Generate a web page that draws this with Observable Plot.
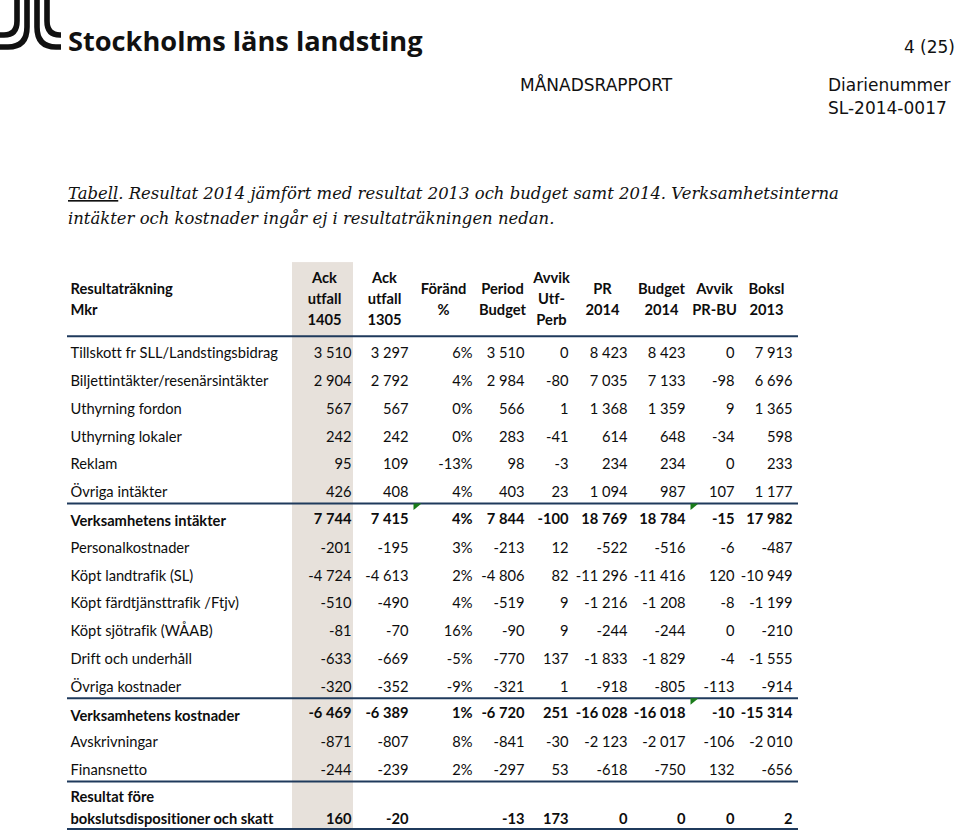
<!DOCTYPE html>
<html lang="sv">
<head>
<meta charset="utf-8">
<script src="https://cdn.jsdelivr.net/npm/d3@7"></script>
<script src="https://cdn.jsdelivr.net/npm/@observablehq/plot@0.6"></script>
<style>
  html, body { margin: 0; padding: 0; background: #fff; overflow: hidden; }
  #page { position: relative; width: 959px; height: 834px; overflow: hidden; background: #fff; }
  #head { position: absolute; left: 0; top: 0; }
  #table { position: absolute; left: 0; top: 255px; }
  #table text { font-variant-ligatures: none; }
</style>
</head>
<body>
<div id="page">
  <svg id="head" width="959" height="255" xmlns="http://www.w3.org/2000/svg">
    <g fill="none" stroke="#111" stroke-width="5.6" stroke-linecap="butt">
      <path d="M17 0 V21 Q17 35 4 35 H0"/>
      <path d="M27 0 V27 Q27 47 8 47 H0"/>
      <path d="M37 0 V27 Q37 47 56 47 H61"/>
      <path d="M47 0 V21 Q47 35 60 35 H61"/>
    </g>
    <text x="68" y="51" font-family="Open Sans" font-weight="700" font-size="27.2" fill="#111">Stockholms läns landsting</text>
    <text x="955" y="53" text-anchor="end" font-family="DejaVu Sans" font-size="17" fill="#111">4 (25)</text>
    <text x="520" y="91" font-family="DejaVu Sans" font-size="17" fill="#111">MÅNADSRAPPORT</text>
    <text x="828" y="91" font-family="DejaVu Sans" font-size="17" fill="#111">Diarienummer</text>
    <text x="828" y="114" font-family="DejaVu Sans" font-size="17" fill="#111">SL-2014-0017</text>
    <text x="68" y="199" font-family="DejaVu Serif" font-style="italic" font-size="16.45" fill="#111"><tspan text-decoration="underline">Tabell</tspan>. Resultat 2014 jämfört med resultat 2013 och budget samt 2014. Verksamhetsinterna</text>
    <text x="68" y="224" font-family="DejaVu Serif" font-style="italic" font-size="16.45" fill="#111">intäkter och kostnader ingår ej i resultaträkningen nedan.</text>
  </svg>
  <div id="table"></div>
</div>
<script>
// ---------------- DATA ----------------
const stubHeader = "Resultaträkning\nMkr";
const colHeaders = ["Ack\nutfall\n1405", "Ack\nutfall\n1305", "Föränd\n%", "Period\nBudget", "Avvik\nUtf-\nPerb", "PR\n2014", "Budget\n2014", "Avvik\nPR-BU", "Boksl\n2013"];

const rowLabels = [
  "Tillskott fr SLL/Landstingsbidrag",
  "Biljettintäkter/resenärsintäkter",
  "Uthyrning fordon",
  "Uthyrning lokaler",
  "Reklam",
  "Övriga intäkter",
  "Verksamhetens intäkter",
  "Personalkostnader",
  "Köpt landtrafik (SL)",
  "Köpt färdtjänsttrafik /Ftjv)",
  "Köpt sjötrafik (WÅAB)",
  "Drift och underhåll",
  "Övriga kostnader",
  "Verksamhetens kostnader",
  "Avskrivningar",
  "Finansnetto",
  "Resultat före\nbokslutsdispositioner och skatt"
];
const boldRows = ["Verksamhetens intäkter", "Verksamhetens kostnader", "Resultat före\nbokslutsdispositioner och skatt"];
const sectionEnds = ["Övriga intäkter", "Övriga kostnader", "Finansnetto"];

const ackUtfall1405 = [3510, 2904, 567, 242, 95, 426, 7744, -201, -4724, -510, -81, -633, -320, -6469, -871, -244, 160];
const ackUtfall1305 = [3297, 2792, 567, 242, 109, 408, 7415, -195, -4613, -490, -70, -669, -352, -6389, -807, -239, -20];
const forandPct     = [6, 4, 0, 0, -13, 4, 4, 3, 2, 4, 16, -5, -9, 1, 8, 2, null];
const periodBudget  = [3510, 2984, 566, 283, 98, 403, 7844, -213, -4806, -519, -90, -770, -321, -6720, -841, -297, -13];
const avvikUtfPerb  = [0, -80, 1, -41, -3, 23, -100, 12, 82, 9, 9, 137, 1, 251, -30, 53, 173];
const pr2014        = [8423, 7035, 1368, 614, 234, 1094, 18769, -522, -11296, -1216, -244, -1833, -918, -16028, -2123, -618, 0];
const budget2014    = [8423, 7133, 1359, 648, 234, 987, 18784, -516, -11416, -1208, -244, -1829, -805, -16018, -2017, -750, 0];
const avvikPrBu     = [0, -98, 9, -34, 0, 107, -15, -6, 120, -8, 0, -4, -113, -10, -106, 132, 0];
const boksl2013     = [7913, 6696, 1365, 598, 233, 1177, 17982, -487, -10949, -1199, -210, -1555, -914, -15314, -2010, -656, 2];

// cells carrying a green indicator triangle (row label, column number 1..9)
const flaggedCells = [["Verksamhetens intäkter", 3], ["Verksamhetens intäkter", 8], ["Verksamhetens kostnader", 8]];

// ---------------- FORMAT ----------------
const sv = d3.formatLocale({decimal: ",", thousands: " ", grouping: [3], currency: ["", ""], minus: "-"});
const fmtInt = sv.format(",d");
const fmtPct = v => v + "%";

const seriesList = [ackUtfall1405, ackUtfall1305, forandPct, periodBudget, avvikUtfPerb, pr2014, budget2014, avvikPrBu, boksl2013];
const columns = seriesList.map((values, k) => ({
  key: "c" + (k + 1), header: colHeaders[k], values, fmt: values === forandPct ? fmtPct : fmtInt
}));

// ---------------- LAYOUT (scale configuration) ----------------
const svgTop = 255, svgH = 834 - svgTop;
const rowPitch = 27.8, firstRowPx = 353 - svgTop;
const colTextPx = [351, 408, 472, 524, 568, 627, 685, 734, 792];
const colMidPx  = [324, 384, 443, 502, 551, 602, 661, 714, 766];
const colEdgePx = [353, 413, 478, 530, 574, 632, 690, 739, 798];
const xDomain = ["rule:start", "label:start", "label:edge"];
const xRange = [67, 70, 292];
columns.forEach((c, k) => {
  xDomain.push(c.key + ":text", c.key + ":mid", c.key + ":edge");
  xRange.push(colTextPx[k], colMidPx[k], colEdgePx[k]);
});

const lastIdx = rowLabels.length - 1;
const rows = rowLabels.map((label, i) => ({label, i, bold: boldRows.includes(label)}));
const valueY = r => r.i === lastIdx ? r.i + 0.77 : (r.bold ? r.i - 0.05 : r.i);
const labelY = r => r.i === lastIdx ? r.i + 0.27 : (r.bold ? r.i - 0.05 : r.i);
const ruleOffset = 0.4;
const tableBottom = lastIdx + 0.77 + 0.33;
const headerY = -2.02;
const rulesY = [-1 + ruleOffset - 0.02, ...sectionEnds.map(l => rowLabels.indexOf(l) + ruleOffset), tableBottom];
const shadeTop = -3.27;

const cells = rows.flatMap(r => columns.map(c => {
  const v = c.values[r.i];
  return {row: r, col: c.key, text: v == null ? "" : c.fmt(v)};
}));

const flags = flaggedCells.map(([label, colNo]) => ({
  x: "c" + (colNo - 1) + ":edge",
  y: rowLabels.indexOf(label) - 1 + ruleOffset
}));

const cornerTriangle = {
  draw(ctx) { ctx.moveTo(0, 0); ctx.lineTo(8, 0); ctx.lineTo(0, 6.5); ctx.closePath(); }
};

const FS = 14.7;
const textColor = "#0d0d0d";

const chart = Plot.plot({
  width: 959,
  height: svgH,
  margin: 0,
  style: {fontFamily: "Lato, sans-serif", fontSize: FS + "px", background: "#fff", color: textColor},
  x: {type: "ordinal", domain: xDomain, range: xRange, axis: null},
  y: {type: "linear", domain: [-firstRowPx / rowPitch, (svgH - firstRowPx) / rowPitch], range: [0, svgH], axis: null},
  marks: [
    // shaded current-period column
    Plot.rect([0], {x1: () => "label:edge", x2: () => "c1:edge", y1: () => shadeTop, y2: () => tableBottom, fill: "#e7e1db"}),
    // horizontal rules
    Plot.ruleY(rulesY, {x1: () => "rule:start", x2: () => "c9:edge", stroke: "#1f3a5c", strokeWidth: 2}),
    // header
    Plot.text([stubHeader], {x: () => "label:start", y: () => headerY, text: d => d, textAnchor: "start", fontWeight: "bold", fontSize: FS, lineHeight: 1.43, fill: textColor}),
    Plot.text(columns, {x: d => d.key + ":mid", y: () => headerY, text: "header", textAnchor: "middle", fontWeight: "bold", fontSize: FS, lineHeight: 1.43, fill: textColor}),
    // row labels
    Plot.text(rows.filter(r => !r.bold), {x: () => "label:start", y: labelY, text: "label", textAnchor: "start", fontSize: FS, fill: textColor, letterSpacing: "0.2px"}),
    Plot.text(rows.filter(r => r.bold), {x: () => "label:start", y: labelY, text: "label", textAnchor: "start", fontWeight: "bold", fontSize: FS, lineHeight: 1.5, fill: textColor}),
    // values
    Plot.text(cells.filter(d => !d.row.bold), {x: d => d.col + ":text", y: d => valueY(d.row), text: "text", textAnchor: "end", fontSize: FS, fill: textColor}),
    Plot.text(cells.filter(d => d.row.bold), {x: d => d.col + ":text", y: d => valueY(d.row), text: "text", textAnchor: "end", fontWeight: "bold", fontSize: FS, fill: textColor}),
    // green cell indicators
    Plot.dot(flags, {x: "x", y: "y", symbol: cornerTriangle, r: 4, fill: "#1a7c1a", stroke: "none"})
  ]
});
document.getElementById("table").appendChild(chart);
</script>
</body>
</html>
